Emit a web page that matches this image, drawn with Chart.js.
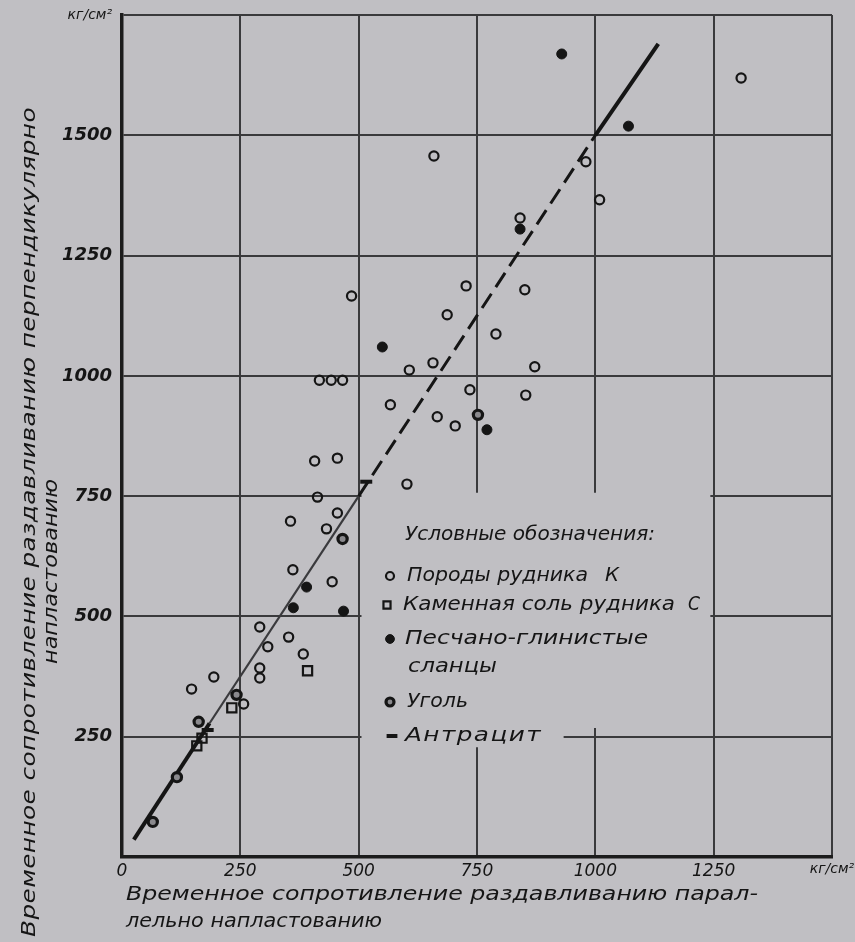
<!DOCTYPE html>
<html>
<head>
<meta charset="utf-8">
<script src="https://cdn.jsdelivr.net/npm/chart.js@4/dist/chart.umd.min.js"></script>
<style>
  body { margin: 0; background: #c0bfc3; }
  canvas { display: block; }
</style>
</head>
<body>
<canvas id="chart" width="855" height="942"></canvas>
<script>
// tick labels
const xTickLabels = ['0', '250', '500', '750', '1000', '1250', 'кг/см²'];
const yTickLabels = ['', '250', '500', '750', '1000', '1250', '1500', 'кг/см²'];

// Породы рудника К
const rockX = [1308, 659, 980, 1009, 841, 485, 727, 851, 687, 790, 657, 607, 872, 417, 442, 466, 735, 853, 567, 666, 704,
  407, 455, 413, 602, 356, 455, 432, 361, 444, 291, 352, 308, 383, 291, 291, 194, 147, 257];
const rockY = [1619, 1457, 1445, 1366, 1328, 1166, 1187, 1179, 1127, 1087, 1027, 1012, 1019, 991, 991, 991, 971, 960, 940, 915, 896,
  823, 829, 748, 775, 698, 715, 682, 597, 572, 478, 457, 437, 422, 393, 372, 374, 349, 318];

// Каменная соль рудника С
const saltX = [392, 232, 169, 158];
const saltY = [387, 310, 247, 231];

// Песчано-глинистые сланцы
const shaleX = [929, 1070, 841, 550, 771, 390, 362, 468];
const shaleY = [1669, 1519, 1305, 1060, 888, 561, 518, 511];

// Уголь
const coalX = [466, 242, 162, 116, 65, 752];
const coalY = [661, 337, 281, 166, 73, 919];

// Антрацит
const anthrX = [516, 181];
const anthrY = [780, 264];

// линия связи
const trendX = [25, 185, 500, 1000, 1133];
const trendY = [36, 278, 750, 1500, 1690];

const BG = '#c0bfc3';
const INK = '#151515';
const GRID = '#3a3a3c';
const FONT = '"DejaVu Sans"';

const pts = (xs, ys) => xs.map((x, i) => ({ x, y: ys[i] }));

const styles = {
  rock:  { pointStyle: 'circle', radius: 4.6, borderWidth: 2.2, backgroundColor: 'rgba(0,0,0,0)' },
  salt:  { pointStyle: 'rect', radius: 6.5, borderWidth: 2.2, backgroundColor: 'rgba(0,0,0,0)' },
  shale: { pointStyle: 'circle', radius: 5, borderWidth: 1, backgroundColor: INK },
  coal:  { pointStyle: 'circle', radius: 4.6, borderWidth: 3.2, backgroundColor: '#8a898d' },
  anthr: { pointStyle: 'line', radius: 6, borderWidth: 4, backgroundColor: INK }
};

function scatterSet(label, xs, ys, st) {
  return {
    type: 'scatter', label, data: pts(xs, ys),
    pointStyle: st.pointStyle, pointRadius: st.radius, pointBorderWidth: st.borderWidth,
    pointBackgroundColor: st.backgroundColor, pointBorderColor: INK, pointHoverRadius: st.radius
  };
}

// stretch a line of text to the width it has in the drawing (wide drafting lettering)
function fitText(ctx, text, x, y, w) {
  ctx.letterSpacing = '0px';
  const m = ctx.measureText(text).width;
  const n = [...text].length;
  const s = Math.min(1.3, w / m);
  ctx.save();
  ctx.translate(x, y);
  ctx.scale(s, 1);
  if ('letterSpacing' in ctx && n > 1) ctx.letterSpacing = ((w / s - m) / n) + 'px';
  ctx.fillText(text, 0, 0);
  ctx.restore();
  ctx.letterSpacing = '0px';
}

const unitFont = { family: FONT, style: 'italic', size: 14 };

const paperPlugin = {
  id: 'paper',
  beforeDraw(chart) {
    const ctx = chart.ctx;
    ctx.save();
    ctx.fillStyle = BG;
    ctx.fillRect(0, 0, chart.width, chart.height);
    ctx.restore();
  },
  beforeDatasetsDraw(chart) {
    // legend sits on a blank patch of the grid
    const { ctx, scales: { x, y } } = chart;
    ctx.save();
    ctx.fillStyle = BG;
    ctx.beginPath();
    ctx.moveTo(x.getPixelForValue(506), y.getPixelForValue(757));
    ctx.lineTo(x.getPixelForValue(1243), y.getPixelForValue(757));
    ctx.lineTo(x.getPixelForValue(1243), y.getPixelForValue(268));
    ctx.lineTo(x.getPixelForValue(933), y.getPixelForValue(268));
    ctx.lineTo(x.getPixelForValue(933), y.getPixelForValue(228));
    ctx.lineTo(x.getPixelForValue(506), y.getPixelForValue(228));
    ctx.closePath();
    ctx.fill();
    ctx.restore();
  },
  afterDraw(chart) {
    const ctx = chart.ctx;
    ctx.save();
    ctx.fillStyle = INK;
    ctx.textBaseline = 'middle';
    ctx.textAlign = 'left';
    ctx.font = 'italic 19px ' + FONT;

    // axis titles
    fitText(ctx, 'Временное сопротивление раздавливанию парал-', 126, 895, 632);
    fitText(ctx, 'лельно напластованию', 126, 922, 256);

    ctx.save();
    ctx.translate(30, 522);
    ctx.rotate(-Math.PI / 2);
    fitText(ctx, 'Временное сопротивление раздавливанию перпендикулярно', -415, 0, 830);
    ctx.restore();
    ctx.save();
    ctx.translate(52, 572);
    ctx.rotate(-Math.PI / 2);
    fitText(ctx, 'напластованию', -92, 0, 185);
    ctx.restore();

    // legend
    fitText(ctx, 'Условные обозначения:', 405, 535, 250);
    const rows = [
      ['rock', 390, 576, [['Породы рудника', 407, 181], ['К', 605, 14]]],
      ['salt', 387, 605, [['Каменная соль рудника', 403, 272], ['С', 688, 12]]],
      ['shale', 390, 639, [['Песчано-глинистые', 405, 243]]],
      ['coal', 390, 702, [['Уголь', 407, 61]]],
      ['anthr', 392, 736, [['Антрацит', 405, 137]]]
    ];
    rows.forEach(([key, sx, sy, parts]) => {
      const st = styles[key];
      ctx.save();
      ctx.fillStyle = st.backgroundColor;
      ctx.strokeStyle = INK;
      ctx.lineWidth = st.borderWidth;
      Chart.helpers.drawPoint(ctx, { pointStyle: st.pointStyle, radius: key === 'salt' ? 5 : st.radius - 0.6, borderWidth: st.borderWidth, rotation: 0 }, sx, sy);
      ctx.restore();
      parts.forEach(([t, tx, tw]) => fitText(ctx, t, tx, sy, tw));
    });
    fitText(ctx, 'сланцы', 408, 667, 89);
    ctx.restore();
  }
};

new Chart(document.getElementById('chart'), {
  data: {
    datasets: [
      scatterSet('Породы рудника К', rockX, rockY, styles.rock),
      scatterSet('Каменная соль рудника С', saltX, saltY, styles.salt),
      scatterSet('Песчано-глинистые сланцы', shaleX, shaleY, styles.shale),
      scatterSet('Уголь', coalX, coalY, styles.coal),
      scatterSet('Антрацит', anthrX, anthrY, styles.anthr),
      {
        type: 'line', label: 'trend', data: pts(trendX, trendY),
        borderColor: INK, borderWidth: 4, pointRadius: 0, fill: false,
        segment: {
          borderDash: c => c.p0DataIndex === 2 ? [17, 8] : undefined,
          borderWidth: c => c.p0DataIndex === 1 ? 2.2 : (c.p0DataIndex === 2 ? 3 : 4),
          borderColor: c => c.p0DataIndex === 1 ? '#3a3a3d' : INK
        }
      }
    ]
  },
  options: {
    responsive: false,
    animation: false,
    layout: { padding: { left: 0, right: 23, top: 15, bottom: 0 } },
    plugins: { legend: { display: false }, tooltip: { enabled: false } },
    scales: {
      x: {
        type: 'linear', min: 0, max: 1500,
        afterFit: s => { s.height = 85; s.paddingLeft = 0; s.paddingRight = 0; },
        grid: { color: GRID, lineWidth: 2, drawTicks: false },
        border: { display: true, color: '#1c1c1c', width: 3.5 },
        ticks: {
          stepSize: 250, padding: 4, color: INK,
          font: c => c.tick && c.tick.value === 1500 ? unitFont : { family: FONT, style: 'italic', size: 17 },
          callback: (v, i) => xTickLabels[i]
        }
      },
      y: {
        type: 'linear', min: 0, max: 1750,
        afterFit: s => { s.width = 122; s.paddingTop = 0; s.paddingBottom = 0; },
        grid: { color: GRID, lineWidth: 2, drawTicks: false },
        border: { display: true, color: '#1c1c1c', width: 3.5 },
        ticks: {
          stepSize: 250, padding: 10, color: INK,
          font: c => c.tick && c.tick.value === 1750
            ? unitFont
            : { family: FONT, style: 'italic', weight: 'bold', size: 18 },
          callback: (v, i) => yTickLabels[i]
        }
      }
    }
  },
  plugins: [paperPlugin]
});
</script>
</body>
</html>
